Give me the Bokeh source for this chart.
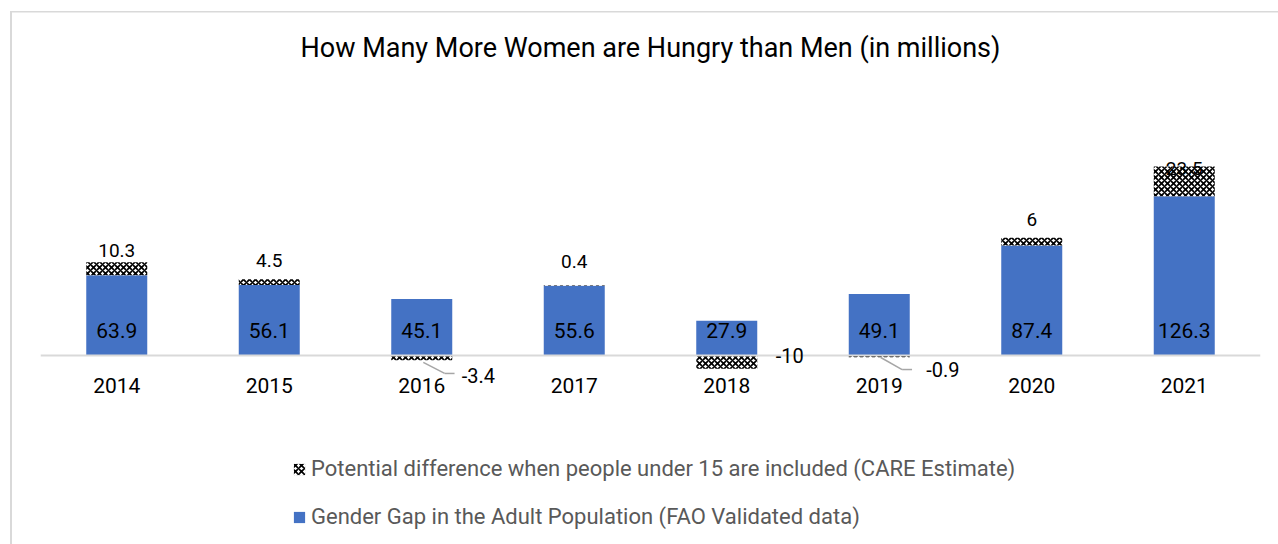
import numpy as np
from bokeh.plotting import figure
from bokeh.models import (ColumnDataSource, FactorRange, Range1d, Label,
                          Legend, LegendItem, InlineStyleSheet)
from bokeh.transform import dodge
from bokeh.core.properties import value
from bokeh.embed import file_html
from bokeh.resources import INLINE

# ---------------- data ----------------
years = ["2014", "2015", "2016", "2017", "2018", "2019", "2020", "2021"]
fao_gap = [63.9, 56.1, 45.1, 55.6, 27.9, 49.1, 87.4, 126.3]
care_extra = [10.3, 4.5, -3.4, 0.4, -10, -0.9, 6, 23.5]

title_text = "How Many More Women are Hungry than Men (in millions)"
series_care = "Potential difference when people under 15 are included (CARE Estimate)"
series_fao = "Gender Gap in the Adult Population (FAO Validated data)"

# ---------------- styles / manual label placement (pixels) ----------------
BLUE = "#4472C4"
FONT_NAME = "Roboto"
FONT = value(FONT_NAME)
pos_label_dy = {"2014": -12, "2015": -18.6, "2017": -24, "2020": -18.7, "2021": 2}
neg_label_dx = {"2016": 40, "2018": 49, "2019": 47}
neg_label_dy = {"2016": 19.5, "2018": 0, "2019": 13.5}
leader_y = {"2016": (-5.1, -13.8), "2019": (-1.2, -10.7)}

# ---------------- derived table ----------------
fao = np.array(fao_gap)
care = np.array(care_extra)
care_bottom = np.where(care >= 0, fao, 0.0)
care_top = np.where(care >= 0, fao + care, care)

src = ColumnDataSource(dict(
    year=years, fao=fao, care_bottom=care_bottom, care_top=care_top,
    fao_txt=[f"{v:g}" for v in fao_gap],
))

pos = [i for i, c in enumerate(care_extra) if c >= 0]
pos_src = ColumnDataSource(dict(
    year=[years[i] for i in pos],
    y=[care_top[i] for i in pos],
    txt=[f"{care_extra[i]:g}" for i in pos],
    dy=[pos_label_dy[years[i]] for i in pos],
))
neg = [i for i, c in enumerate(care_extra) if c < 0]
neg_src = ColumnDataSource(dict(
    year=[years[i] for i in neg],
    txt=[f"{care_extra[i]:g}" for i in neg],
    dx=[neg_label_dx[years[i]] for i in neg],
    dy=[neg_label_dy[years[i]] for i in neg],
))
lead_years = list(leader_y.keys())
lead_src = ColumnDataSource(dict(
    year=lead_years,
    y0=[leader_y[y][0] for y in lead_years],
    y1=[leader_y[y][1] for y in lead_years],
))

# ---------------- figure ----------------
p = figure(x_range=FactorRange(*years, range_padding=0),
           y_range=Range1d(-149.0, 281.0),
           width=1278, height=544, output_backend="svg", toolbar_location=None,
           x_axis_location=None, y_axis_location=None,
           min_border_left=40, min_border_right=18,
           min_border_top=0, min_border_bottom=0)
p.grid.visible = False
p.outline_line_color = None
p.background_fill_color = None
p.border_fill_color = None

# chart-area border (left/top edges) drawn behind the transparent canvas
p.stylesheets = [InlineStyleSheet(css=(
    ":host { background:"
    " linear-gradient(#d9d9d9,#d9d9d9) 10px 11px / 2px 100% no-repeat,"
    " linear-gradient(#d9d9d9,#d9d9d9) 10px 11px / 100% 1.5px no-repeat,"
    " #ffffff; }"
))]

r_fao = p.vbar(x="year", top="fao", bottom=0, width=0.4, source=src,
               fill_color=BLUE, line_color=None)
r_care = p.vbar(x="year", top="care_top", bottom="care_bottom", width=0.4, source=src,
                fill_color="white", line_color=None,
                hatch_pattern="diagonal_cross", hatch_color="black",
                hatch_scale=6, hatch_weight=1.7)

# baseline at zero
p.hspan(y=0, line_color="#d9d9d9", line_width=2)

# leader lines
p.segment(x0=dodge("year", 0.01, range=p.x_range), y0="y0",
          x1=dodge("year", 0.15, range=p.x_range), y1="y1",
          source=lead_src, line_color="#a6a6a6", line_width=1.5)
p.segment(x0=dodge("year", 0.15, range=p.x_range), y0="y1",
          x1=dodge("year", 0.215, range=p.x_range), y1="y1",
          source=lead_src, line_color="#a6a6a6", line_width=1.5)

# labels
p.text(x="year", y=0, text="fao_txt", source=src, y_offset=-25,
       text_align="center", text_baseline="middle", text_font=FONT,
       text_font_size="21px", text_color="black")
p.text(x="year", y=0, text="year", source=src, y_offset=29.5,
       text_align="center", text_baseline="middle", text_font=FONT,
       text_font_size="21px", text_color="black")
p.text(x="year", y="y", text="txt", source=pos_src, y_offset="dy",
       text_align="center", text_baseline="middle", text_font=FONT,
       text_font_size="19px", text_color="black")
p.text(x="year", y=0, text="txt", source=neg_src, x_offset="dx", y_offset="dy",
       text_align="left", text_baseline="middle", text_font=FONT,
       text_font_size="20px", text_color="black")

# title
p.add_layout(Label(x=len(years) / 2, y=243.1, text=title_text,
                   text_align="center", text_baseline="middle",
                   text_font=FONT_NAME, text_font_size="27px", text_color="black"))

# legend
legend = Legend(items=[LegendItem(label=series_care, renderers=[r_care]),
                       LegendItem(label=series_fao, renderers=[r_fao])],
                location=(252, 15), orientation="vertical",
                glyph_width=14, glyph_height=14, label_standoff=5,
                spacing=23, padding=0, margin=0,
                border_line_color=None, background_fill_alpha=0,
                label_text_font=FONT_NAME, label_text_font_size="22px",
                label_text_color="#595959")
p.add_layout(legend)

open("out.html", "w").write(file_html(p, INLINE))
